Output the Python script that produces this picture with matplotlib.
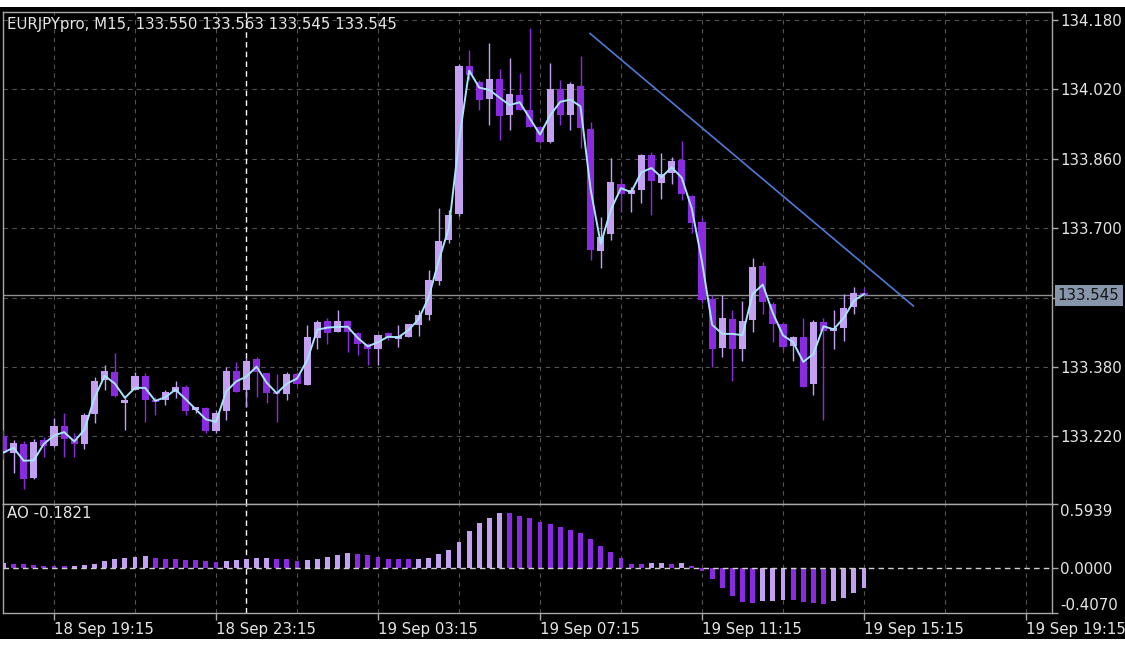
import matplotlib
matplotlib.use('Agg')
import matplotlib.pyplot as plt
import matplotlib.transforms as mtransforms
from matplotlib.patches import Rectangle
import numpy as np
import pandas as pd

plt.rcParams['font.family'] = ['DejaVu Sans']

# ---------------- data (EURJPYpro M15, 18 Sep 18:00 .. 19 Sep 15:15) ----------------
opens = [133.222, 133.182, 133.202, 133.124, 133.211, 133.198, 133.243, 133.213, 133.202, 133.271,
         133.351, 133.368, 133.297, 133.328, 133.359, 133.303, 133.305, 133.322, 133.335, 133.280,
         133.285, 133.232, 133.278, 133.372, 133.326, 133.398, 133.366, 133.322, 133.319, 133.365,
         133.338, 133.447, 133.486, 133.461, 133.486, 133.459, 133.434, 133.422, 133.458, 133.444,
         133.449, 133.478, 133.499, 133.578, 133.674, 133.732, 134.074, 134.038, 133.997, 134.043,
         133.961, 134.007, 133.972, 133.934, 133.898, 134.022, 133.961, 134.028, 133.928, 133.648,
         133.686, 133.803, 133.779, 133.788, 133.869, 133.805, 133.828, 133.857, 133.774, 133.715,
         133.536, 133.424, 133.490, 133.421, 133.488, 133.612, 133.526, 133.480, 133.428, 133.449,
         133.340, 133.485, 133.463, 133.471, 133.518, 133.550]
highs = [133.234, 133.211, 133.209, 133.213, 133.218, 133.262, 133.273, 133.227, 133.273, 133.357,
         133.384, 133.412, 133.311, 133.368, 133.366, 133.311, 133.326, 133.347, 133.338, 133.289,
         133.288, 133.280, 133.380, 133.392, 133.402, 133.403, 133.366, 133.365, 133.368, 133.368,
         133.476, 133.488, 133.492, 133.511, 133.488, 133.460, 133.435, 133.454, 133.461, 133.476,
         133.480, 133.511, 133.603, 133.746, 133.742, 134.079, 134.111, 134.042, 134.128, 134.066,
         134.092, 134.058, 134.162, 133.935, 134.081, 134.042, 134.038, 134.097, 133.945, 133.726,
         133.862, 133.815, 133.795, 133.871, 133.876, 133.873, 133.865, 133.901, 133.776, 133.723,
         133.545, 133.545, 133.511, 133.532, 133.632, 133.622, 133.530, 133.481, 133.451, 133.492,
         133.488, 133.492, 133.511, 133.549, 133.565, 133.563]
lows = [133.169, 133.135, 133.100, 133.123, 133.172, 133.195, 133.172, 133.172, 133.192, 133.250,
        133.326, 133.310, 133.234, 133.326, 133.253, 133.269, 133.292, 133.308, 133.269, 133.275,
        133.229, 133.229, 133.257, 133.322, 133.288, 133.311, 133.296, 133.253, 133.303, 133.338,
        133.338, 133.422, 133.434, 133.460, 133.415, 133.407, 133.384, 133.384, 133.442, 133.426,
        133.449, 133.451, 133.488, 133.569, 133.665, 133.728, 134.042, 133.972, 133.938, 133.903,
        133.926, 133.972, 133.934, 133.896, 133.896, 133.938, 133.926, 133.884, 133.626, 133.608,
        133.672, 133.738, 133.738, 133.758, 133.730, 133.767, 133.803, 133.765, 133.689, 133.527,
        133.380, 133.403, 133.349, 133.395, 133.461, 133.503, 133.438, 133.419, 133.395, 133.333,
        133.315, 133.257, 133.422, 133.441, 133.503, 133.545]
closes = [133.183, 133.205, 133.123, 133.207, 133.199, 133.245, 133.215, 133.202, 133.269, 133.349,
          133.371, 133.313, 133.305, 133.359, 133.305, 133.299, 133.322, 133.334, 133.278, 133.287,
          133.232, 133.275, 133.372, 133.322, 133.394, 133.368, 133.320, 133.319, 133.365, 133.342,
          133.449, 133.483, 133.459, 133.486, 133.460, 133.434, 133.421, 133.454, 133.446, 133.451,
          133.479, 133.501, 133.580, 133.671, 133.730, 134.074, 134.053, 133.995, 134.043, 133.959,
          134.009, 133.972, 133.934, 133.898, 134.022, 133.961, 134.032, 133.930, 133.649, 133.679,
          133.807, 133.778, 133.788, 133.869, 133.809, 133.826, 133.855, 133.778, 133.712, 133.534,
          133.421, 133.492, 133.421, 133.486, 133.611, 133.529, 133.480, 133.426, 133.449, 133.335,
          133.485, 133.463, 133.471, 133.515, 133.551, 133.545]
ao_values = [0.052, 0.043, 0.037, 0.031, 0.024, 0.021, 0.020, 0.024, 0.031, 0.043,
             0.067, 0.089, 0.101, 0.110, 0.113, 0.101, 0.092, 0.086, 0.080, 0.077,
             0.073, 0.064, 0.070, 0.077, 0.083, 0.095, 0.098, 0.089, 0.083, 0.073,
             0.077, 0.089, 0.110, 0.125, 0.141, 0.138, 0.122, 0.104, 0.092, 0.089,
             0.083, 0.092, 0.101, 0.138, 0.174, 0.248, 0.349, 0.416, 0.468, 0.511,
             0.508, 0.481, 0.462, 0.429, 0.407, 0.383, 0.358, 0.324, 0.275, 0.205,
             0.150, 0.098, 0.043, 0.037, 0.052, 0.055, 0.046, 0.049, 0.021, -0.024,
             -0.101, -0.184, -0.254, -0.309, -0.321, -0.300, -0.297, -0.291, -0.294, -0.309,
             -0.315, -0.324, -0.300, -0.269, -0.230, -0.1821]

time_tick_bars = [5, 21, 37, 53, 69, 85, 101]
time_tick_labels = ['18 Sep 19:15', '18 Sep 23:15', '19 Sep 03:15', '19 Sep 07:15',
                    '19 Sep 11:15', '19 Sep 15:15', '19 Sep 19:15']
price_ticks = [134.180, 134.020, 133.860, 133.700, 133.540, 133.380, 133.220]
price_tick_labels = ['134.180', '134.020', '133.860', '133.700', '', '133.380', '133.220']
ao_ticks = [-0.4070, 0.0, 0.5939]
ao_tick_labels = ['-0.4070', '0.0000', '0.5939']
bid_price = 133.545
separator_bar = 24          # 19 Sep 00:00
trend_bars = [57.94, 89.87]
trend_prices = [134.149, 133.521]
title_text = 'EURJPYpro, M15, 133.550 133.563 133.545 133.545'
ao_title = 'AO -0.1821'

# ---------------- style ----------------
W, H = 1125, 646
BULL = '#c4a0f2'
BEAR = '#8a2be2'
MA_COL = '#a8e4fb'
GRID = '#525252'
SPINE = '#a8a8a8'
TXT = '#e6e6e6'
FS = 10.8

fig = plt.figure(figsize=(W / 100, H / 100), dpi=100, facecolor='white')
fig.patches.append(Rectangle((0, 1 - 639.3 / H), 1, (639.3 - 7.3) / H,
                             transform=fig.transFigure, facecolor='black',
                             edgecolor='none', zorder=-10))

left = 3.3 / W
width = (1052 - 3.3) / W
ax1 = fig.add_axes([left, 1 - 504 / H, width, (504 - 11.7) / H])
ax2 = fig.add_axes([left, 1 - 612.7 / H, width, (612.7 - 504) / H])

idx = np.arange(len(closes))
o = np.array(opens); c = np.array(closes)
hi = np.array(highs); lo = np.array(lows)
bull = c >= o
cols = np.where(bull, BULL, BEAR)

xlim = (-0.01, 103.57)
for ax in (ax1, ax2):
    ax.set_facecolor('black')
    ax.set_xlim(*xlim)
    for s in ax.spines.values():
        s.set_color(SPINE)
        s.set_linewidth(1.0)
    for b in range(5, 104, 8):
        ax.axvline(b, color=GRID, lw=0.8, ls=(0, (4, 4)), zorder=0)
    ax.axvline(separator_bar, color='white', lw=1.0, ls=(0, (4, 3)), zorder=1)

# ---- price panel ----
ax1.set_ylim(133.0643, 134.1992)
ax1.yaxis.tick_right()
ax1.set_yticks(price_ticks)
ax1.set_yticklabels(price_tick_labels)
ax1.tick_params(axis='y', colors=SPINE, labelcolor=TXT, labelsize=FS, length=4, width=1, pad=2)
ax1.set_xticks([])
for p in price_ticks:
    ax1.axhline(p, color=GRID, lw=0.8, ls=(0, (4, 4)), zorder=0)

ax1.vlines(idx, lo, hi, colors=cols, lw=1.0, zorder=3)
body_h = np.maximum(np.abs(c - o), 0.0022)
ax1.bar(idx, body_h, bottom=np.minimum(o, c), width=0.7, color=cols, lw=0, zorder=4)

ma = pd.Series(closes).rolling(2, min_periods=1).mean()
ax1.plot(idx, ma, color=MA_COL, lw=1.4, zorder=5)

ax1.plot(trend_bars, trend_prices, color='#4f7ad8', lw=1.2, zorder=5)

ax1.axhline(bid_price, color='#8e8e8e', lw=1.0, zorder=2)
trans = mtransforms.blended_transform_factory(ax1.transAxes, ax1.transData)
ax1.text(1.0055, bid_price, f'{bid_price:.3f}', transform=trans, ha='left', va='center',
         fontsize=FS, color='#151515',
         bbox=dict(boxstyle='square,pad=0.2', facecolor='#8796aa', edgecolor='none'),
         clip_on=False, zorder=10)

fig.text(7 / W, 1 - 25 / H, title_text, color=TXT, fontsize=FS, ha='left', va='center')

# ---- AO panel ----
ao = np.array(ao_values)
ao_up = np.concatenate([[True], ao[1:] > ao[:-1]])
ao_cols = np.where(ao_up, BULL, BEAR)
ax2.set_ylim(ao_ticks[0], ao_ticks[-1])
ax2.bar(idx, ao, width=0.48, color=ao_cols, lw=0, zorder=3)
ax2.axhline(0, color='#d0d0d0', lw=1.0, ls=(0, (4, 3)), zorder=4)
ax2.yaxis.tick_right()
ax2.set_yticks(ao_ticks)
ax2.set_yticklabels(ao_tick_labels)
ax2.tick_params(axis='y', colors=SPINE, labelcolor=TXT, labelsize=FS, length=4, width=1, pad=2)
ylabels = ax2.get_yticklabels()
ylabels[0].set_va('bottom')
ylabels[-1].set_va('top')

ax2.set_xticks(time_tick_bars)
ax2.set_xticklabels(time_tick_labels)
ax2.tick_params(axis='x', colors=SPINE, labelcolor=TXT, labelsize=FS, length=5, width=1, pad=2)
for lab in ax2.get_xticklabels():
    lab.set_ha('left')
    lab.set_clip_on(False)

fig.text(7 / W, 1 - 513.5 / H, ao_title, color=TXT, fontsize=FS, ha='left', va='center')

fig.savefig('out.png', dpi=100, facecolor=fig.get_facecolor())
